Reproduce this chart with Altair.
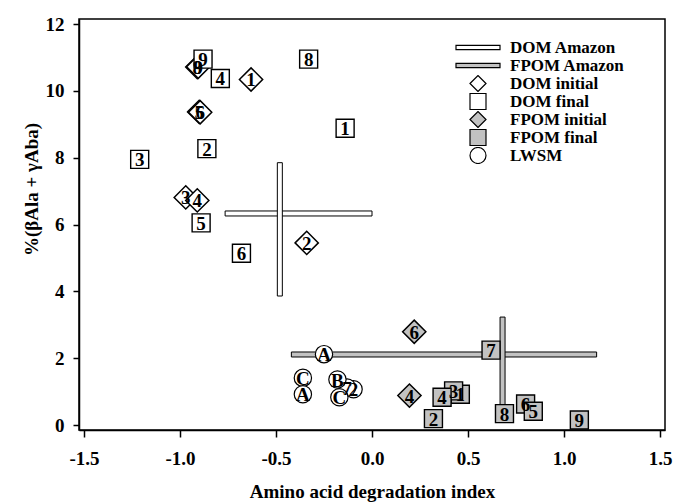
import altair as alt
import pandas as pd

GRAY = "#c2c2c2"
FONT = "Liberation Serif"

# ---- data ----
series_order = ["DOM Amazon", "FPOM Amazon", "DOM initial", "DOM final",
                "FPOM initial", "FPOM final", "LWSM"]

# Amazon ranges (crosses): centre and extent
amz_series = ["DOM Amazon", "FPOM Amazon"]
amz_cx = [-0.48, 0.68]
amz_cy = [6.33, 2.11]
amz_xmin = [-0.765, -0.42]
amz_xmax = [0.0, 1.17]
amz_ymin = [3.86, 0.55]
amz_ymax = [7.85, 3.23]

dom_init_lab = ["1", "2", "3", "4", "5", "6", "8", "9"]
dom_init_x = [-0.63, -0.34, -0.97, -0.91, -0.90, -0.895, -0.91, -0.905]
dom_init_y = [10.34, 5.45, 6.81, 6.72, 9.37, 9.36, 10.71, 10.72]

dom_fin_lab = ["1", "2", "3", "4", "5", "6", "8", "9"]
dom_fin_x = [-0.14, -0.86, -1.21, -0.79, -0.89, -0.68, -0.33, -0.88]
dom_fin_y = [8.88, 8.27, 7.95, 10.37, 6.05, 5.14, 10.95, 10.95]

fpom_init_lab = ["4", "6"]
fpom_init_x = [0.195, 0.22]
fpom_init_y = [0.88, 2.79]

fpom_fin_lab = ["1", "3", "4", "2", "6", "5", "7", "8", "9"]
fpom_fin_x = [0.46, 0.425, 0.365, 0.32, 0.80, 0.84, 0.62, 0.69, 1.08]
fpom_fin_y = [0.92, 1.02, 0.83, 0.19, 0.63, 0.41, 2.24, 0.34, 0.15]

lwsm_lab = ["A", "C", "A", "2", "7", "B", "C"]
lwsm_x = [-0.25, -0.36, -0.36, -0.096, -0.13, -0.18, -0.17]
lwsm_y = [2.12, 1.41, 0.92, 1.07, 1.12, 1.36, 0.83]

x_ticks = [-1.5, -1.0, -0.5, 0.0, 0.5, 1.0, 1.5]
y_ticks = [0, 2, 4, 6, 8, 10, 12]

# ---- tables ----
amz = pd.DataFrame({"series": amz_series, "cx": amz_cx, "cy": amz_cy,
                    "xmin": amz_xmin, "xmax": amz_xmax,
                    "ymin": amz_ymin, "ymax": amz_ymax})


def table(name, lab, xs, ys):
    return pd.DataFrame({"series": name, "lab": lab, "x": xs, "y": ys})


diamonds = pd.concat([table("DOM initial", dom_init_lab, dom_init_x, dom_init_y),
                      table("FPOM initial", fpom_init_lab, fpom_init_x, fpom_init_y)])
squares = pd.concat([table("DOM final", dom_fin_lab, dom_fin_x, dom_fin_y),
                     table("FPOM final", fpom_fin_lab, fpom_fin_x, fpom_fin_y)])
circles = table("LWSM", lwsm_lab, lwsm_x, lwsm_y)
all_pts = pd.concat([diamonds, squares, circles])

BAR_PATH = "M-2.75,-0.26L2.75,-0.26L2.75,0.26L-2.75,0.26Z"
shape_scale = alt.Scale(domain=series_order,
                        range=[BAR_PATH, BAR_PATH, "diamond", "square",
                               "diamond", "square", "circle"])
fill_scale = alt.Scale(domain=series_order,
                       range=["white", GRAY, "white", "white", GRAY, GRAY, "white"])

xs = alt.Scale(domain=[-1.5, 1.5], nice=False, zero=False)
ys = alt.Scale(domain=[0, 12], nice=False, zero=False)

x_axis = alt.Axis(values=x_ticks, title="Amino acid degradation index",
                  labelExpr="datum.value < 0 ? '-' + format(-datum.value, '.1f') : format(datum.value, '.1f')",
                  tickSize=7, labelPadding=12, titlePadding=14)
y_axis = alt.Axis(values=y_ticks, title="%(\u03b2Ala + \u03b3Aba)",
                  tickSize=6, labelPadding=9,
                  titleX=-48, titleY=170, titleAngle=270,
                  titleAlign="center", titleBaseline="middle")

X = alt.X("x:Q", scale=xs, axis=x_axis)
Y = alt.Y("y:Q", scale=ys, axis=y_axis)
LEG = alt.Legend(title=None, clipHeight=17, rowPadding=0)
FILL = alt.Fill("series:N", scale=fill_scale, legend=LEG)
SHAPE = alt.Shape("series:N", scale=shape_scale, legend=LEG)

hbar = alt.Chart(amz).mark_bar(orient="horizontal", size=5, stroke="black",
                               strokeWidth=1).encode(
    x=alt.X("xmin:Q", scale=xs, axis=x_axis), x2="xmax:Q",
    y=alt.Y("cy:Q", scale=ys, axis=y_axis), fill=FILL)
vbar = alt.Chart(amz).mark_bar(orient="vertical", size=5, stroke="black",
                               strokeWidth=1).encode(
    x=alt.X("cx:Q", scale=xs, axis=x_axis),
    y=alt.Y("ymin:Q", scale=ys, axis=y_axis), y2="ymax:Q", fill=FILL)


def pts(df, size, sw):
    return alt.Chart(df).mark_point(filled=True, size=size, stroke="black",
                                    strokeWidth=sw, opacity=1).encode(
        x=X, y=Y, shape=SHAPE, fill=FILL)


dia = pts(diamonds, 540, 1.5)
sq = pts(squares, 324, 1.4)
cir = pts(circles, 300, 1.2)

txt = alt.Chart(all_pts).mark_text(font=FONT, fontWeight="bold", fontSize=19,
                                   color="black", align="center",
                                   baseline="middle", dy=1).encode(
    x=X, y=Y, text="lab:N")

chart = alt.layer(hbar, vbar, dia, sq, cir, txt).properties(
    width=586, height=411,
    autosize=alt.AutoSizeParams(type="none"),
    padding={"left": 79, "top": 19, "right": 16, "bottom": 73},
    background="white",
).configure_view(stroke="black", strokeWidth=1.5).configure_axis(
    grid=False, domainColor="black", domainWidth=1.5, tickColor="black",
    tickWidth=1.5, labelFont=FONT, labelFontSize=19, labelFontWeight="bold",
    labelColor="black", titleFont=FONT, titleFontSize=19,
    titleFontWeight="bold", titleColor="black",
).configure_legend(
    orient="none", legendX=376, legendY=20, padding=0,
    symbolSize=256, symbolStrokeColor="black", symbolStrokeWidth=1.2,
    symbolOffset=14, labelOffset=23, labelFont=FONT, labelFontSize=17,
    labelFontWeight="bold", labelColor="black", labelLimit=300,
)

chart.save("out.html", embed_options={"renderer": "svg", "actions": False})
